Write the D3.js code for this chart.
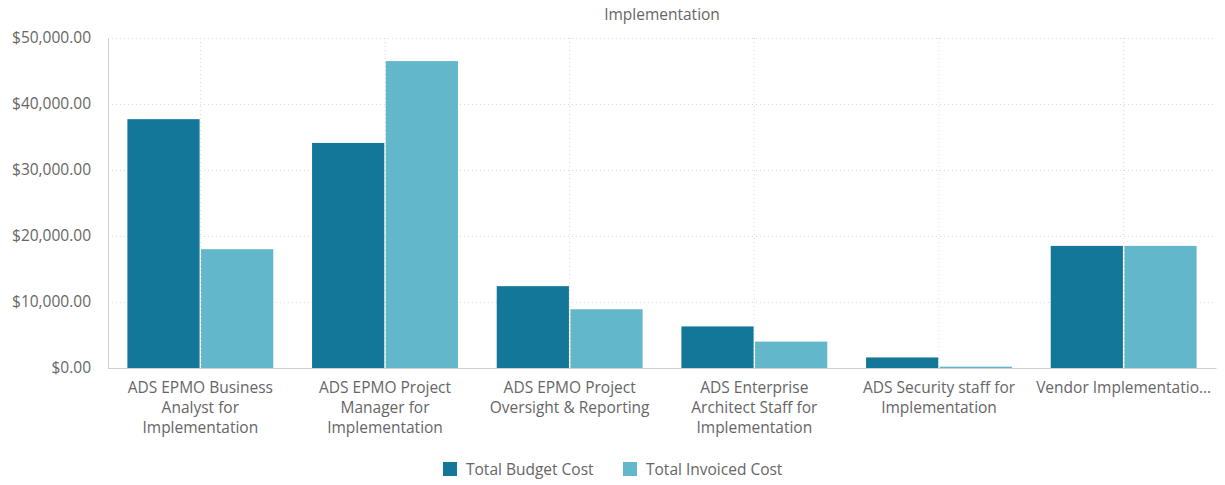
<!DOCTYPE html>
<html>
<head>
<meta charset="utf-8">
<script src="https://cdn.jsdelivr.net/npm/d3@7"></script>
<style>
  body { margin: 0; background: #fff; font-family: "Open Sans", sans-serif; }
  svg text { font-family: "Open Sans", sans-serif; fill: #666; }
</style>
</head>
<body>
<div id="chart"></div>
<script>
const categories = [
  ["ADS EPMO Business", "Analyst for", "Implementation"],
  ["ADS EPMO Project", "Manager for", "Implementation"],
  ["ADS EPMO Project", "Oversight & Reporting"],
  ["ADS Enterprise", "Architect Staff for", "Implementation"],
  ["ADS Security staff for", "Implementation"],
  ["Vendor Implementatio..."]
];
const budgetCost = [37700, 34100, 12400, 6300, 1600, 18500];
const invoicedCost = [18000, 46500, 8900, 4000, 200, 18500];
const seriesNames = ["Total Budget Cost", "Total Invoiced Cost"];
const yTicks = [0, 10000, 20000, 30000, 40000, 50000];
const colors = ["#137799", "#62b7cb"];

const W = 1225, H = 485;
const margin = { top: 38, right: 9, bottom: 117, left: 108 };
const width = W - margin.left - margin.right;
const height = H - margin.top - margin.bottom;
const fontSize = "15.5px";

const svg = d3.select("#chart").append("svg")
  .attr("width", W).attr("height", H);

svg.append("text")
  .attr("x", 662).attr("y", 20)
  .attr("text-anchor", "middle")
  .style("font-size", fontSize)
  .text("Implementation");

const g = svg.append("g").attr("transform", `translate(${margin.left},${margin.top})`);

const keys = categories.map((d, i) => i);
const x = d3.scaleBand().domain(keys).range([0, width]).paddingInner(0.21).paddingOuter(0.105);
const x1 = d3.scaleBand().domain([0, 1]).range([0, x.bandwidth()]).paddingInner(0.02);
const y = d3.scaleLinear().domain([0, 50000]).range([height, 0]);

// horizontal grid
g.append("g")
  .call(d3.axisLeft(y).tickValues(yTicks).tickSize(-width).tickFormat(""))
  .call(a => a.select(".domain").remove())
  .selectAll("line")
  .attr("stroke", "#d9d9d9")
  .attr("stroke-dasharray", "1,3");

// vertical grid at category centers
g.append("g")
  .selectAll("line")
  .data(keys)
  .join("line")
  .attr("x1", d => x(d) + x.bandwidth() / 2)
  .attr("x2", d => x(d) + x.bandwidth() / 2)
  .attr("y1", 0).attr("y2", height)
  .attr("stroke", "#d9d9d9")
  .attr("stroke-dasharray", "1,3");

const series = [budgetCost, invoicedCost];
g.append("g")
  .selectAll("g")
  .data(series)
  .join("g")
  .attr("fill", (d, i) => colors[i])
  .each(function (vals, si) {
    d3.select(this).selectAll("rect")
      .data(vals)
      .join("rect")
      .attr("x", (v, i) => x(i) + x1(si))
      .attr("y", v => y(v))
      .attr("width", x1.bandwidth())
      .attr("height", v => y(0) - y(v));
  });

// y axis
g.append("g")
  .call(d3.axisLeft(y).tickValues(yTicks).tickSize(0).tickPadding(17)
    .tickFormat(d => "$" + d3.format(",.2f")(d)))
  .call(a => a.select(".domain").attr("stroke", "#d0d0d0"))
  .selectAll("text")
  .style("font-size", fontSize);

// x axis
const xAxis = g.append("g")
  .attr("transform", `translate(0,${height})`)
  .call(d3.axisBottom(x).tickSize(0).tickFormat(""));
xAxis.select(".domain").attr("stroke", "#d0d0d0");

g.append("g")
  .selectAll("text")
  .data(keys)
  .join("text")
  .attr("x", d => x(d) + x.bandwidth() / 2)
  .attr("y", height + 25)
  .attr("text-anchor", "middle")
  .style("font-size", fontSize)
  .each(function (d) {
    d3.select(this).selectAll("tspan")
      .data(categories[d])
      .join("tspan")
      .attr("x", x(d) + x.bandwidth() / 2)
      .attr("dy", (t, i) => i === 0 ? 0 : 20)
      .text(t => t);
  });

// legend
const legend = svg.append("g").attr("transform", "translate(443,462)");
const legendX = [0, 180];
seriesNames.forEach((name, i) => {
  const item = legend.append("g").attr("transform", `translate(${legendX[i]},0)`);
  item.append("rect").attr("width", 14).attr("height", 14).attr("fill", colors[i]);
  item.append("text").attr("x", 23).attr("y", 13)
    .style("font-size", fontSize).text(name);
});
</script>
</body>
</html>
